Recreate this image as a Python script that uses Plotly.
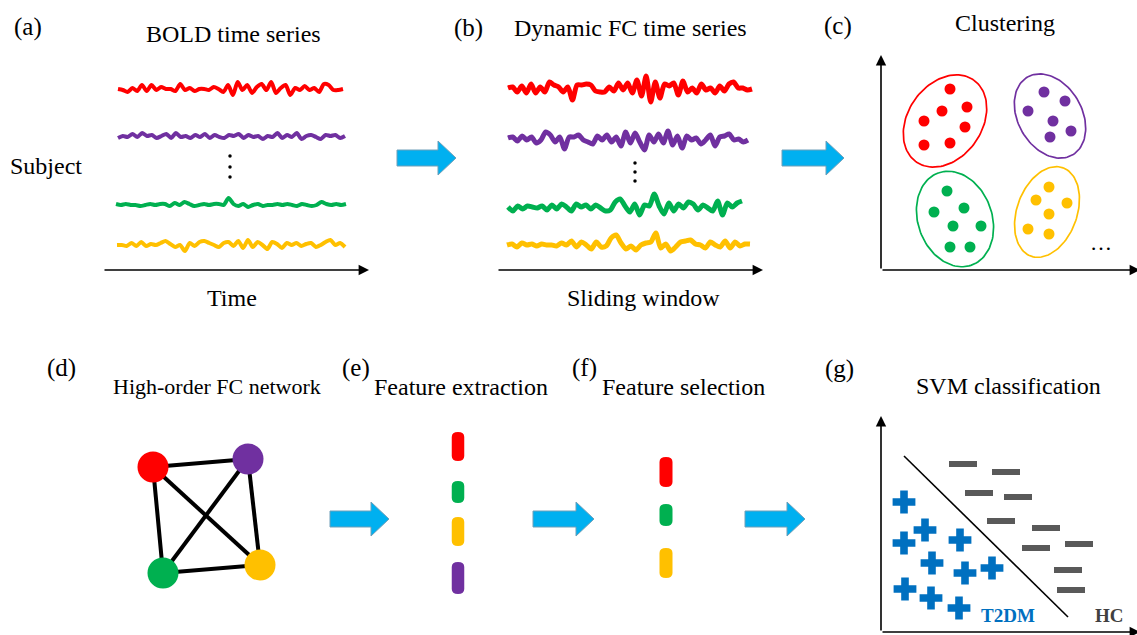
import numpy as np
import plotly.graph_objects as go

W, H = 1137, 635
RED, PURPLE, GREEN, YELLOW = "#FF0000", "#7030A0", "#00B050", "#FFC000"
BLUE_ARROW, PLUS_BLUE, MINUS_GRAY = "#00B0F0", "#0070C0", "#595959"
FONT = "Liberation Serif, Times New Roman, serif"

# ---------------- data ----------------
# (a) BOLD time series (signal amplitude, arbitrary units)
bold_red = [1, 0, -2, 2, -1, 5, -1, 5, 0, 3, 1, 1, -1, 6, 0, 2, -1, 1, 1, 0, 3, 1, -2, 5,
            -5, 8, 0, 5, -3, 3, 6, 0, 8, -3, 2, 5, -5, 2, 0, 4, 0, 2, -2, 6, 5, 0, 0, 1]
bold_purple = [-1, 1, 0, 3, 0, 4, 1, 2, -1, 1, 3, -1, 4, 0, 1, -1, 2, 0, 3, -1, 2, 0, -1, 2,
               1, 3, -1, 2, 0, 1, -2, 1, 0, 4, -1, 2, 0, 4, -2, 1, 2, 0, -2, 2, 1, 2, -1, 1]
bold_green = [1, 0, 1, 0, 0, -1, 0, 1, 0, 1, 1, -1, 2, 0, 3, 1, -1, 0, 1, 0, 1, 1, 0, 7,
              1, -1, 1, -2, 0, 1, -1, 0, 0, 1, 0, 1, 0, -1, 1, 0, -1, 0, 3, 1, 0, 1, 0, 1]
bold_yellow = [0, 0, -1, 2, -1, 3, -1, 1, 0, 2, 4, 1, -2, 0, -6, 2, -1, 3, 4, 2, 0, -2, 2, 3,
               -1, 4, -3, 5, -2, 3, 0, -4, 3, 1, -3, 2, 0, 2, -1, 1, 2, -2, 0, 3, 5, 0, 2, -2]
# (b) dynamic FC time series
dfc_red = [2, 3, -2, 4, -3, 6, -3, 3, -2, 8, 5, 3, -2, 3, -10, 5, 5, 6, 5, -1, -2, -2, 3, -1, 7,
           0, 7, -3, 10, -6, 14, -12, 8, -8, 6, 4, 7, -5, 9, -2, 2, -3, 6, 0, 2, -3, 4, -1, 6, 8,
           2, 2, 0, 1]
dfc_purple = [2, 3, -1, 4, 0, 3, -3, 0, 8, 5, -2, 3, -9, 3, 3, 5, 0, -2, -4, 4, 0, 5, -2, 3, -6,
              8, -3, 7, -2, -10, 5, -2, 6, -3, 9, -5, 4, -8, 4, 0, 2, -4, 0, 5, -6, 3, 4, 6, 0, 1,
              -2, 0]
dfc_green = [1, -3, 2, -1, 2, 1, 0, 2, -2, 3, -1, 4, 1, -3, 4, 1, 3, -1, 3, 0, -3, -2, 6, 9, 2,
             -4, 4, -7, 3, 2, 14, 2, -6, 5, -3, 4, 0, 6, 4, -2, 3, 0, -3, 7, -7, 5, 1, 5, 7]
dfc_yellow = [0, 1, -2, 2, 0, 1, -1, 1, 0, 0, -1, 2, 0, 4, -2, 3, 0, -4, 3, -2, -1, 7, 10, 2,
              -4, -1, -5, 0, 2, 3, 12, -3, 1, -6, -2, 3, 4, 5, 1, 0, -3, 3, 0, -2, 4, -3, 3, -1,
              1, 1]

# (c) clustering points
clu_red_x = [950, 942, 967, 924, 965, 924, 950]
clu_red_y = [89, 111, 107, 121, 127, 145, 143]
clu_purple_x = [1044, 1065, 1028, 1053, 1071, 1050]
clu_purple_y = [92, 101, 111, 121, 131, 137]
clu_green_x = [947, 934, 964, 953, 981, 950, 970]
clu_green_y = [191, 212, 208, 226, 226, 247, 247]
clu_yellow_x = [1049, 1036, 1067, 1049, 1028, 1049]
clu_yellow_y = [187, 200, 203, 214, 229, 234]

# (d) high-order FC network nodes
node_names = ["red", "purple", "green", "yellow"]
node_x = [153, 248, 163, 260]
node_y = [467, 459, 573, 565]
node_colors = [RED, PURPLE, GREEN, YELLOW]
edges = [(0, 1), (0, 2), (0, 3), (1, 2), (1, 3), (2, 3)]

# (e) extracted features / (f) selected features
extract_colors = [RED, GREEN, YELLOW, PURPLE]
select_colors = [RED, GREEN, YELLOW]

# (g) SVM classification
t2dm_x = [904, 925, 904, 960, 932, 965, 992, 905, 931, 959]
t2dm_y = [502, 530, 543, 540, 563, 573, 568, 589, 598, 608]
hc_x = [963, 1006, 979, 1018, 1001, 1046, 1036, 1079, 1068, 1071]
hc_y = [464, 472, 493, 497, 521, 528, 548, 544, 570, 590]

# ---------------- figure ----------------
fig = go.Figure()
shapes = []
annotations = []


def add_wave(vals, x0, x1, yb, color, width):
    n = len(vals)
    xs = [x0 + (x1 - x0) * i / (n - 1) for i in range(n)]
    ys = [yb - v for v in vals]
    fig.add_trace(go.Scatter(x=xs, y=ys, mode="lines",
                             line=dict(color=color, width=width, shape="spline", smoothing=0.7),
                             hoverinfo="skip", showlegend=False))


def text(x, y, s, size=24, color="black", bold=False, xanchor="center"):
    if bold:
        s = "<b>" + s + "</b>"
    annotations.append(dict(x=x, y=y, xref="x", yref="y", text=s, showarrow=False,
                            xanchor=xanchor, yanchor="middle",
                            font=dict(family=FONT, size=size, color=color)))


def axis_arrow(x0, y0, x1, y1):
    annotations.append(dict(x=x1, y=y1, ax=x0, ay=y0, xref="x", yref="y", axref="x", ayref="y",
                            text="", showarrow=True, arrowhead=2, arrowsize=1.3,
                            arrowwidth=1.6, arrowcolor="black"))


def block_arrow(x0, x1, yc, body_h=16, head_h=34, head_len=18):
    xb = x1 - head_len
    p = (f"M {x0},{yc - body_h / 2} L {xb},{yc - body_h / 2} L {xb},{yc - head_h / 2} "
         f"L {x1},{yc} L {xb},{yc + head_h / 2} L {xb},{yc + body_h / 2} "
         f"L {x0},{yc + body_h / 2} Z")
    shapes.append(dict(type="path", path=p, xref="x", yref="y", fillcolor=BLUE_ARROW,
                       line=dict(color="#6F9FB8", width=1)))


def pill(cx, yt, yb, w, color):
    r = min(w / 2, 5)
    l, rr = cx - w / 2, cx + w / 2
    p = (f"M {l},{yt + r} Q {l},{yt} {cx},{yt} Q {rr},{yt} {rr},{yt + r} "
         f"L {rr},{yb - r} Q {rr},{yb} {cx},{yb} Q {l},{yb} {l},{yb - r} Z")
    shapes.append(dict(type="path", path=p, xref="x", yref="y", fillcolor=color,
                       line=dict(width=0)))


def ellipse(cx, cy, a, b, tilt_deg, color):
    t = np.linspace(0, 2 * np.pi, 120)
    th = np.deg2rad(tilt_deg)
    ux, uy = np.sin(th), -np.cos(th)
    vx, vy = np.cos(th), np.sin(th)
    xs = cx + a * np.cos(t) * ux + b * np.sin(t) * vx
    ys = cy + a * np.cos(t) * uy + b * np.sin(t) * vy
    fig.add_trace(go.Scatter(x=xs, y=ys, mode="lines", line=dict(color=color, width=1.7),
                             hoverinfo="skip", showlegend=False))


# ----- panel (a) -----
text(28, 27, "(a)", size=25)
text(233, 34, "BOLD time series")
text(46, 166, "Subject")
text(232, 298, "Time")
add_wave(bold_red, 118, 343, 90, RED, 4)
add_wave(bold_purple, 118, 345, 137, PURPLE, 4)
add_wave(bold_green, 116, 346, 205, GREEN, 4)
add_wave(bold_yellow, 117, 345, 245, YELLOW, 4)
fig.add_trace(go.Scatter(x=[230, 230, 230], y=[156, 167, 177], mode="markers",
                         marker=dict(color="black", size=3.5), hoverinfo="skip", showlegend=False))
axis_arrow(103, 270, 369, 270)

block_arrow(397, 456, 158)

# ----- panel (b) -----
text(468, 28, "(b)", size=25)
text(630, 28, "Dynamic FC time series")
text(643, 298, "Sliding window")
add_wave(dfc_red, 508, 752, 90, RED, 5)
add_wave(dfc_purple, 508, 748, 140, PURPLE, 5)
add_wave(dfc_green, 508, 742, 208, GREEN, 5)
add_wave(dfc_yellow, 507, 750, 245, YELLOW, 5)
fig.add_trace(go.Scatter(x=[635, 635, 635], y=[163, 172, 181], mode="markers",
                         marker=dict(color="black", size=3.5), hoverinfo="skip", showlegend=False))
axis_arrow(497, 270, 763, 270)

block_arrow(782, 844, 158)

# ----- panel (c) -----
text(838, 26, "(c)", size=25)
text(1005, 23, "Clustering")
axis_arrow(881, 270, 881, 55)
axis_arrow(881, 270, 1140, 270)
ellipse(945, 121, 50, 37, 35, RED)
ellipse(1050, 116, 45, 32, -30, PURPLE)
ellipse(955, 219, 49, 37, -20, GREEN)
ellipse(1047, 212, 47, 30, 20, YELLOW)
for xs, ys, c in [(clu_red_x, clu_red_y, RED), (clu_purple_x, clu_purple_y, PURPLE),
                  (clu_green_x, clu_green_y, GREEN), (clu_yellow_x, clu_yellow_y, YELLOW)]:
    fig.add_trace(go.Scatter(x=xs, y=ys, mode="markers", marker=dict(color=c, size=11),
                             hoverinfo="skip", showlegend=False))
text(1101, 242, "…", size=22)

# ----- panel (d) -----
text(61, 368, "(d)", size=25)
text(217, 386, "High-order FC network", size=22)
ex, ey = [], []
for i, j in edges:
    ex += [node_x[i], node_x[j], None]
    ey += [node_y[i], node_y[j], None]
fig.add_trace(go.Scatter(x=ex, y=ey, mode="lines", line=dict(color="black", width=4),
                         hoverinfo="skip", showlegend=False))
fig.add_trace(go.Scatter(x=node_x, y=node_y, mode="markers", text=node_names,
                         marker=dict(color=node_colors, size=31),
                         hoverinfo="skip", showlegend=False))

block_arrow(330, 389, 519)

# ----- panel (e) -----
text(356, 368, "(e)", size=25)
text(461, 387, "Feature extraction")
extract_spans = [(432, 461), (481, 503), (517, 546), (562, 594)]
for c, (yt, yb) in zip(extract_colors, extract_spans):
    pill(458, yt, yb, 12.5, c)

block_arrow(533, 594, 519)

# ----- panel (f) -----
text(584, 368, "(f)", size=25)
text(683, 387, "Feature selection")
select_spans = [(457, 487), (504, 526), (548, 578)]
for c, (yt, yb) in zip(select_colors, select_spans):
    pill(666, yt, yb, 13, c)

block_arrow(745, 805, 519)

# ----- panel (g) -----
text(839, 369, "(g)", size=25)
text(1008, 386, "SVM classification")
axis_arrow(881, 632, 881, 416)
axis_arrow(881, 632, 1140, 632)
shapes.append(dict(type="line", x0=904, y0=456, x1=1068, y1=617, xref="x", yref="y",
                   line=dict(color="black", width=1.6)))
fig.add_trace(go.Scatter(x=t2dm_x, y=t2dm_y, mode="markers",
                         marker=dict(symbol="cross", color=PLUS_BLUE, size=19, line=dict(width=0)),
                         hoverinfo="skip", showlegend=False))
fig.add_trace(go.Scatter(x=hc_x, y=hc_y, mode="markers",
                         marker=dict(symbol="line-ew-open", size=20, color=MINUS_GRAY,
                                     line=dict(color=MINUS_GRAY, width=6)),
                         hoverinfo="skip", showlegend=False))
text(1008, 615, "T2DM", size=19, color=PLUS_BLUE, bold=True)
text(1109, 615, "HC", size=19, color="#404040", bold=True)

fig.update_layout(
    width=W, height=H, autosize=False,
    margin=dict(l=0, r=0, t=0, b=0),
    paper_bgcolor="white", plot_bgcolor="white",
    font=dict(family=FONT),
    xaxis=dict(range=[0, W], visible=False, fixedrange=True),
    yaxis=dict(range=[H, 0], visible=False, fixedrange=True),
    shapes=shapes, annotations=annotations, showlegend=False,
)
fig.write_html("out.html", config={"displayModeBar": False},
               post_script="document.body.style.margin='0';")
